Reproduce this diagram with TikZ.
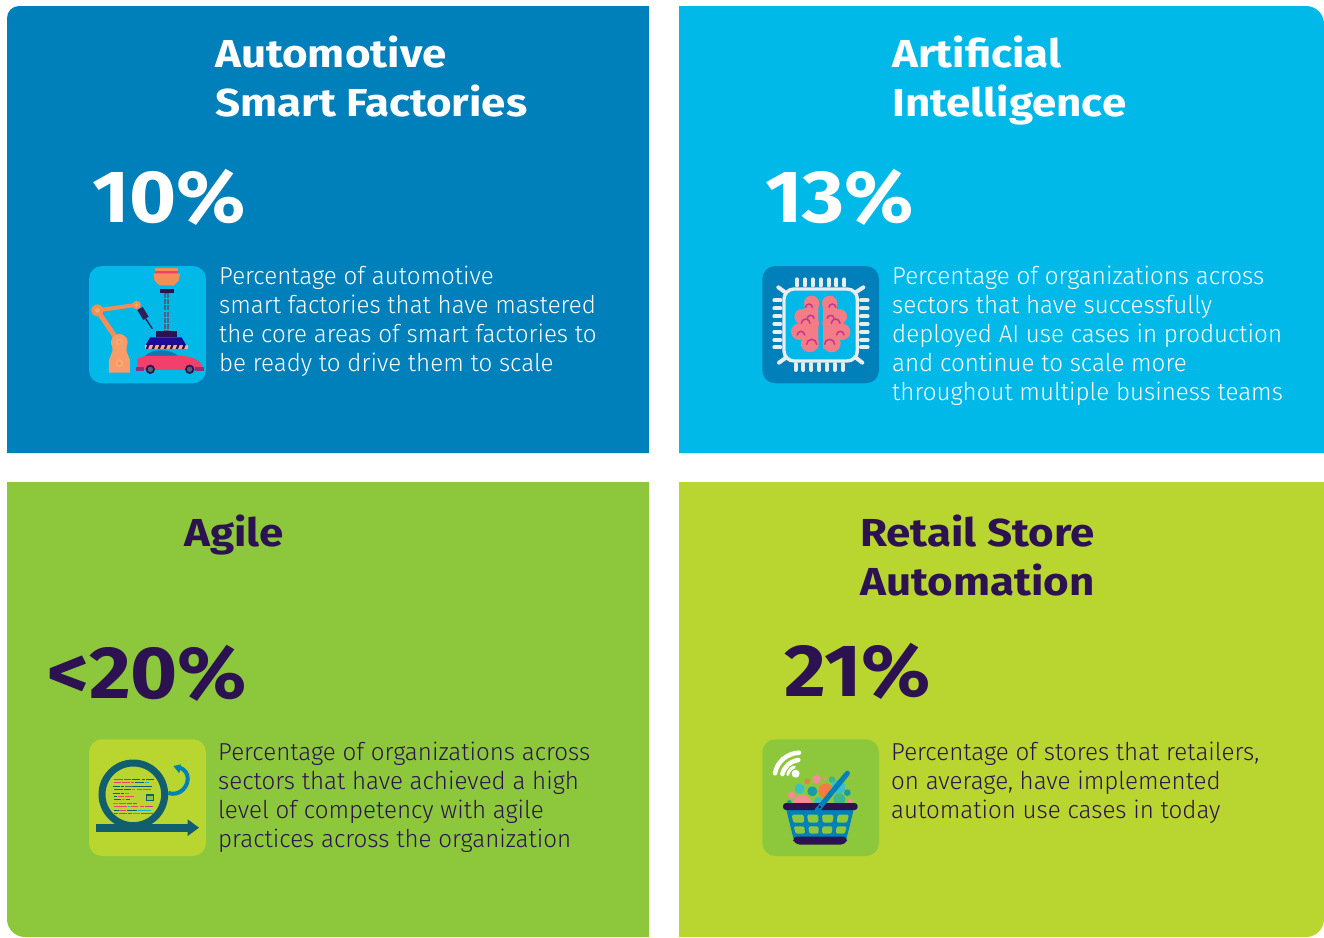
\documentclass[tikz,border=0pt]{standalone}
\usepackage{fontspec}
\setmainfont{Fira Sans}
\newfontfamily\lightf[FakeStretch=0.985]{Fira Sans Light}
\newfontfamily\boldf[FakeStretch=1.09]{Fira Sans Bold}
\newfontfamily\titlef[FakeStretch=1.125]{Fira Sans Bold}
\usetikzlibrary{calc}
\definecolor{pblue}{HTML}{0080BA}
\definecolor{pcyan}{HTML}{00B9E9}
\definecolor{pgreen}{HTML}{8DC83C}
\definecolor{plime}{HTML}{B9D530}
\definecolor{ink}{HTML}{2C1250}
\definecolor{teal}{HTML}{115E6F}
\definecolor{orng}{HTML}{F58D56}
\definecolor{orngl}{HTML}{F9A878}
\definecolor{pinkc}{HTML}{F23F6C}
\definecolor{brain}{HTML}{F47C86}
\definecolor{magen}{HTML}{C2378F}
\definecolor{slate}{HTML}{55607A}
\definecolor{grayw}{HTML}{E8EDEE}
\definecolor{fcyan}{HTML}{3CC0C4}
\definecolor{fteal}{HTML}{1A9CA6}
\definecolor{fgreen}{HTML}{3DB88B}
\definecolor{fpink}{HTML}{F58A98}
\definecolor{forng}{HTML}{F57A45}
\tikzset{
  x=1pt,y=-1pt,
  titletext/.style={anchor=base west,inner sep=0pt,font=\titlef\fontsize{39}{49}\selectfont,align=left},
  pcttext/.style={anchor=base west,inner sep=0pt,font=\boldf\fontsize{74}{74}\selectfont},
  bodytext/.style={anchor=north west,inner sep=0pt,font=\lightf\fontsize{24.5}{29}\selectfont,align=left},
  basketwin/.style={fill=pgreen,rounded corners=1.5pt},
}
\begin{document}
\begin{tikzpicture}
\useasboundingbox (0,0) rectangle (1324,937);
\fill[white] (0,0) rectangle (1324,937);
% panels
\fill[pblue] (7,453) -- (7,18) arc[start angle=180,end angle=90,x radius=12,y radius=-12] -- (649,6) -- (649,453) -- cycle;
\fill[pcyan] (679,453) -- (679,6) -- (1306,6) arc[start angle=90,end angle=0,x radius=18,y radius=-18] -- (1324,453) -- cycle;
\fill[pgreen] (7,482) -- (649,482) -- (649,937) -- (25,937) arc[start angle=270,end angle=180,x radius=18,y radius=-18] -- cycle;
\fill[plime] (679,482) -- (1324,482) -- (1324,919) arc[start angle=0,end angle=-90,x radius=18,y radius=-18] -- (679,937) -- cycle;
% titles
\node[titletext,text=white] (t1a) at (215,67) {Automotive};
\node[titletext,text=white] (t1b) at (215,116) {Smart Factories};
\node[titletext,text=white] (t2a) at (892,67) {Artificial};
\node[titletext,text=white] (t2b) at (892,116) {Intelligence};
\node[titletext,text=ink] (t3a) at (184,546) {Agile};
\node[titletext,text=ink] (t4a) at (860,546) {Retail Store};
\node[titletext,text=ink] (t4b) at (860,595) {Automation};
% percents
\node[pcttext,text=white] (p1) at (92,222) {10\%};
\node[pcttext,text=white] (p2) at (765,222) {13\%};
\node[pcttext,text=ink] (p3) at (47,698) {<20\%};
\node[pcttext,text=ink] (p4) at (784,696) {21\%};
% body
\node[bodytext,text=white] (b1) at (219,266) {Percentage of automotive\\smart factories that have mastered\\the core areas of smart factories to\\be ready to drive them to scale};
\node[bodytext,text=white] (b2) at (892,266) {Percentage of organizations across\\sectors that have successfully\\deployed AI use cases in production\\and continue to scale more\\throughout multiple business teams};
\node[bodytext,text=ink] (b3) at (218,742) {Percentage of organizations across\\sectors that have achieved a high\\level of competency with agile\\practices across the organization};
\node[bodytext,text=ink] (b4) at (891,742) {Percentage of stores that retailers,\\on average, have implemented\\automation use cases in today};
% ---- icon 1
\begin{scope}[shift={(80,260)},x=0.3333pt,y=-0.3333pt]
\fill[pcyan,rounded corners=13pt] (27,18) rectangle (378,370);
\fill[orng] (225,23) rectangle (295,40);
\fill[pinkc] (225,33) rectangle (295,40);
\fill[orng] (220,41) -- (300,41) -- (296,62) -- (282,76) -- (238,76) -- (224,62) -- cycle;
\fill[ink] (240,87) rectangle (282,99);
\draw[slate,line width=4.5pt,dash pattern=on 5pt off 1.2pt] (259,99) -- (259,212);
\fill[pcyan] (257,102) rectangle (261,210);
\fill[ink] (228,212) rectangle (291,231);
\fill[ink!60!blue] (210,232) -- (305,232) -- (318,255) -- (197,255) -- cycle;
\fill[orng!70!white] (195,255) rectangle (325,267);
\foreach \k in {0,...,6}{\fill[ink] (202+\k*18,255) -- (209+\k*18,255) -- (204+\k*18,267) -- (197+\k*18,267) -- cycle;}
% arm
\draw[orng,line width=4pt] (52,151) -- (168,135);
\draw[orng,line width=5pt] (52,151) -- (112,240);
\fill[orng] (52,151) circle (18);
\fill[orngl] (52,151) circle (7);
\fill[orng] (170,135) circle (13);
\fill[orngl] (170,135) circle (5);
\fill[orngl!60!orng] (118,247) circle (25);
\fill[orngl!60!orng] (97,250) -- (140,250) -- (140,275) -- (150,300) -- (150,338) -- (87,338) -- (87,300) -- (97,275) -- cycle;
\fill[orngl] (118,246) circle (10);\fill[orng] (118,246) circle (4);
\fill[orngl] (118,310) circle (12);\fill[orng] (118,310) circle (5);
% tool
\fill[ink!85!slate] (172,150) -- (188,141) -- (206,170) -- (190,180) -- cycle;
\draw[ink,line width=1.2pt] (197,176) -- (217,206);
% car
\fill[pcyan!60!ink] (195,288) .. controls (215,265) and (270,265) .. (295,288) -- cycle;
\fill[pinkc] (172,318) -- (172,296) -- (195,288) -- (300,287) .. controls (340,290) and (362,300) .. (368,322) -- (368,330) -- (172,330) -- cycle;
\fill[magen!70!ink] (168,322) rectangle (192,332);
\fill[magen!70!ink] (345,322) rectangle (372,332);
\fill[ink] (211,328) circle (14);\fill[slate] (211,328) circle (8);
\fill[ink] (329,328) circle (14);\fill[slate] (329,328) circle (8);
\end{scope}
% ---- icon 2
\begin{scope}[shift={(755,260)},x=0.3333pt,y=-0.3333pt]
\fill[pblue,rounded corners=13pt] (22,18) rectangle (372,370);
\draw[grayw,line width=4pt,line cap=round] \foreach \x in {126,150,173,197,221,244,268}{(\x,58) -- (\x,76)} \foreach \x in {122,145,169,193,216,240,264}{(\x,312) -- (\x,330)};
\draw[grayw,line width=4pt,line cap=round] \foreach \y in {121,145,169,192,216,240,262}{(58,\y) -- (76,\y) (318,\y) -- (338,\y)};
\draw[grayw,line width=4pt,line cap=round] (70,82) -- (88,95) (325,82) -- (305,95) (72,308) -- (90,295) (322,308) -- (305,295);
\draw[grayw,line width=3.4pt,fill=pcyan,rounded corners=10pt] (87,87) rectangle (307,303);
\foreach \s in {1,-1}{
\begin{scope}[shift={(197,0)},xscale=\s]
\fill[brain] (-7,125) -- (-7,265) -- (-35,270) -- (-60,200) -- (-45,125) -- cycle;
\fill[brain] (-27,130) circle (23);\fill[brain] (-56,170) circle (23);\fill[brain] (-64,215) circle (25);\fill[brain] (-33,250) circle (27);\fill[brain] (-30,190) circle (25);
\draw[magen,line width=1.5pt,line cap=round] (-45,142) arc[start angle=180,end angle=0,x radius=10,y radius=-10];
\draw[magen,line width=1.5pt,line cap=round] (-58,190) arc[start angle=180,end angle=0,x radius=13,y radius=-13];
\draw[magen,line width=1.5pt,line cap=round] (-40,175) arc[start angle=180,end angle=0,x radius=10,y radius=-9];
\draw[magen,line width=1.5pt,line cap=round] (-70,225) arc[start angle=180,end angle=0,x radius=11,y radius=-11];
\draw[magen,line width=1.5pt,line cap=round] (-42,253) arc[start angle=180,end angle=0,x radius=15,y radius=-15];
\end{scope}}
\end{scope}
% ---- icon 3
\begin{scope}[shift={(80,732)},x=0.3333pt,y=-0.3333pt]
\fill[plime,rounded corners=13pt] (27,22) rectangle (378,372);
\draw[pblue,line width=4pt] (265,183) .. controls (300,195) and (330,160) .. (322,130) .. controls (318,115) and (305,107) .. (292,106);
\fill[pblue] (280,102) -- (303,97) -- (298,124) -- cycle;
\draw[teal,line width=7pt] (160,187) circle (94);
\fill[teal] (48,276) rectangle (325,300);
\fill[teal] (323,262) -- (357,287) -- (323,312) -- cycle;
\foreach \a/\b/\c/\e in {
 102/142/130/magen,132/142/154/slate,156/142/180/teal,186/142/196/teal,198/142/222/teal,
 102/151/124/pinkc,126/151/150/pinkc,153/151/163/pinkc,165/151/192/teal,194/151/208/pcyan,
 99/163/120/teal,123/163/132/teal,135/163/157/slate,157/163/216/teal,
 102/172/130/teal,132/172/154/teal,155/172/166/pcyan,170/172/187/pinkc,189/172/214/pinkc,
 99/184/120/teal,123/184/132/teal,135/184/148/pcyan,
 102/193/112/teal,113/193/133/pinkc,135/193/162/pinkc,
 102/203/124/teal,126/203/136/pcyan,138/203/150/teal,
 99/214/115/pcyan,117/214/138/pinkc,141/214/157/magen,160/214/172/magen,
 102/223/128/pinkc,130/223/141/pinkc,143/223/151/pcyan,153/223/175/pinkc,180/223/192/pinkc,195/223/219/magen,
 102/235/116/teal,118/235/138/pinkc,141/235/172/teal,173/235/213/pcyan,
 102/244/114/slate,117/244/141/magen,143/244/156/slate,158/244/180/pcyan,183/244/222/magen}{
 \draw[\e,line width=1pt] (\a,\b) -- (\c,\b);}
\fill[teal] (197,187) rectangle (221,208);
\fill[pgreen] (200,191) rectangle (218,203);
\end{scope}
% ---- icon 4
\begin{scope}[shift={(755,732)},x=0.3333pt,y=-0.3333pt]
\fill[pgreen,rounded corners=13pt] (22,22) rectangle (372,372);
% wifi
\fill[white] (122,125) circle (12);
\draw[white,line width=4.5pt,line cap=round] (60,124) .. controls (66,90) and (95,64) .. (132,62);
\draw[white,line width=4.5pt,line cap=round] (82,126) .. controls (88,104) and (105,88) .. (130,84);
\draw[white,line width=3pt,line cap=round] (98,128) .. controls (100,118) and (108,108) .. (118,105);
% fruits
\fill[fpink] (185,142) circle (13);
\fill[forng] (157,148) circle (9);
\fill[fpink] (210,140) circle (5);
\fill[fgreen] (231,143) circle (10);
\fill[fcyan] (134,170) circle (15);
\fill[fteal] (172,178) circle (15);
\fill[fcyan] (250,165) circle (21);
\fill[forng] (213,177) circle (23);
\fill[fteal] (277,182) circle (10);
\fill[fpink] (110,190) circle (11);
\fill[fpink] (142,215) circle (27);
\fill[fcyan] (190,207) circle (13);
\fill[fgreen] (253,202) circle (18);
\fill[fteal] (103,211) circle (7);
\fill[fpink] (285,208) circle (8);
% basket
\fill[pblue] (94,233) -- (296,233) -- (275,318) -- (115,318) -- cycle;
\path[basketwin] (110,248) -- (146,248) -- (148,272) -- (115,272) -- cycle;
\path[basketwin] (156,248) -- (190,248) -- (190,272) -- (160,272) -- cycle;
\path[basketwin] (201,248) -- (236,248) -- (233,272) -- (203,272) -- cycle;
\path[basketwin] (248,248) -- (282,248) -- (276,272) -- (245,272) -- cycle;
\path[basketwin] (116,283) -- (148,283) -- (150,305) -- (122,305) -- cycle;
\path[basketwin] (160,283) -- (191,283) -- (191,305) -- (163,305) -- cycle;
\path[basketwin] (202,283) -- (233,283) -- (230,305) -- (201,305) -- cycle;
\path[basketwin] (245,283) -- (275,283) -- (270,305) -- (242,305) -- cycle;
\fill[ink,rounded corners=3pt] (84,213) rectangle (308,234);
\fill[ink,rounded corners=5pt] (110,314) -- (280,314) -- (272,338) -- (120,338) -- cycle;
% handle
\draw[pblue,line width=5.2pt,line cap=round] (277,124) -- (186,236);
\fill[ink] (194,225) circle (4);
\end{scope}
\end{tikzpicture}
\end{document}
